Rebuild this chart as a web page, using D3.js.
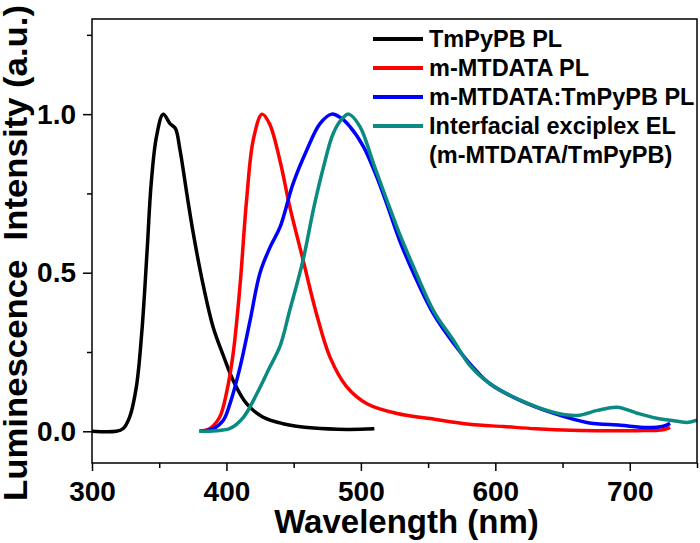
<!DOCTYPE html>
<html>
<head>
<meta charset="utf-8">
<script src="https://cdn.jsdelivr.net/npm/d3@7"></script>
<style>
  body { margin: 0; background: #fff; }
  svg { display: block; }
  text { font-family: Arial, "Liberation Sans", sans-serif; font-weight: bold; fill: #000; }
</style>
</head>
<body>
<div id="chart"></div>
<script>
// axis ticks
const xTicks = [300, 400, 500, 600, 700];
const xMinorTicks = [350, 450, 550, 650, 750];
const yTicks = [0, 0.5, 1.0];
const yMinorTicks = [0.25, 0.75, 1.25];

// legend labels
const seriesNames = ["TmPyPB PL", "m-MTDATA PL", "m-MTDATA:TmPyPB PL", "Interfacial exciplex EL"];
const legendExtra = "(m-MTDATA/TmPyPB)";

// TmPyPB PL
const tmpypbWl = [300, 318, 323, 328, 333, 337, 341, 344, 348, 353, 358, 362, 365.5, 370.5, 375.5, 383, 390, 398, 405, 415, 427, 442, 465, 490, 510];
const tmpypbI  = [0, 0, 0.008, 0.045, 0.14, 0.31, 0.57, 0.78, 0.93, 1.0, 0.97, 0.955, 0.886, 0.75, 0.62, 0.455, 0.33, 0.235, 0.16, 0.087, 0.045, 0.024, 0.01, 0.006, 0.008];

// m-MTDATA PL
const mtdataWl = [380, 388, 395, 400, 405, 410, 415, 420, 426.5, 432, 440, 447, 457, 467, 477, 489.5, 504.5, 527, 551.5, 581, 606, 630, 656, 680, 705, 725, 730];
const mtdataI  = [0, 0.01, 0.045, 0.12, 0.245, 0.455, 0.73, 0.92, 1.0, 0.97, 0.85, 0.71, 0.54, 0.37, 0.234, 0.14, 0.087, 0.056, 0.04, 0.022, 0.015, 0.008, 0.003, 0.002, 0.002, 0.005, 0.012];

// m-MTDATA:TmPyPB PL
const blendWl = [380, 390, 397.7, 402.7, 410, 417.6, 425, 432.4, 440, 449.5, 459.7, 469.6, 478.3, 484.5, 492, 502, 512, 519, 529, 539, 554, 569, 586, 596, 618, 643, 668, 693, 713, 725, 730];
const blendI  = [0, 0.008, 0.035, 0.088, 0.2, 0.35, 0.5, 0.58, 0.645, 0.78, 0.886, 0.97, 1.0, 0.99, 0.96, 0.897, 0.8, 0.72, 0.6, 0.5, 0.37, 0.277, 0.19, 0.15, 0.098, 0.057, 0.028, 0.019, 0.012, 0.016, 0.025];

// Interfacial exciplex EL
const exciplexWl = [380, 392, 402.7, 412.6, 422.8, 432, 440, 447, 457, 464.7, 472, 479.5, 487, 491, 499.4, 509.3, 519.2, 529, 539, 554, 568.8, 581, 596, 618.5, 643, 661, 676, 690.6, 705.5, 720, 730, 742.7, 750];
const exciplexI  = [0, 0.002, 0.009, 0.044, 0.12, 0.2, 0.27, 0.38, 0.54, 0.7, 0.83, 0.94, 0.99, 1.0, 0.96, 0.845, 0.73, 0.62, 0.52, 0.38, 0.287, 0.208, 0.15, 0.098, 0.06, 0.05, 0.066, 0.076, 0.057, 0.041, 0.035, 0.028, 0.035];

const colors = ["#000000", "#ff0000", "#0000ff", "#0a8a80"];

const width = 700;
const height = 543;
const margin = { top: 19, right: 3, bottom: 80, left: 92 };
const innerWidth = width - margin.left - margin.right;
const innerHeight = height - margin.top - margin.bottom;

const svg = d3.select("#chart").append("svg")
  .attr("width", width)
  .attr("height", height);

const g = svg.append("g").attr("transform", `translate(${margin.left},${margin.top})`);

const xScale = d3.scaleLinear().domain([300, 750]).range([0, innerWidth]);
const yScale = d3.scaleLinear().domain([-0.1, 1.3]).range([innerHeight, 0]);

const series = [
  d3.zip(tmpypbWl, tmpypbI),
  d3.zip(mtdataWl, mtdataI),
  d3.zip(blendWl, blendI),
  d3.zip(exciplexWl, exciplexI)
];

const line = d3.line()
  .x(d => xScale(d[0]))
  .y(d => yScale(d[1]))
  .curve(d3.curveCatmullRom.alpha(0.5));

series.forEach((s, i) => {
  g.append("path")
    .datum(s)
    .attr("fill", "none")
    .attr("stroke", colors[i])
    .attr("stroke-width", 3.5)
    .attr("stroke-linejoin", "round")
    .attr("d", line);
});

// frame
g.append("rect")
  .attr("width", innerWidth)
  .attr("height", innerHeight)
  .attr("fill", "none")
  .attr("stroke", "#000")
  .attr("stroke-width", 1.5);

// x axis
const xAxis = g.append("g")
  .attr("transform", `translate(0,${innerHeight})`)
  .call(d3.axisBottom(xScale).tickValues(xTicks).tickSize(8).tickPadding(10).tickSizeOuter(0));
const xMinor = g.append("g")
  .attr("transform", `translate(0,${innerHeight})`)
  .call(d3.axisBottom(xScale).tickValues(xMinorTicks).tickSize(5).tickFormat("").tickSizeOuter(0));

// y axis
const yAxis = g.append("g")
  .call(d3.axisLeft(yScale).tickValues(yTicks).tickFormat(d3.format(".1f")).tickSize(9).tickPadding(7).tickSizeOuter(0));
const yMinor = g.append("g")
  .call(d3.axisLeft(yScale).tickValues(yMinorTicks).tickSize(5).tickFormat("").tickSizeOuter(0));

// minor ticks carry no labels
xMinor.selectAll(".tick text").remove();
yMinor.selectAll(".tick text").remove();

[xAxis, xMinor, yAxis, yMinor].forEach(a => {
  a.select(".domain").remove();
  a.selectAll(".tick line").attr("stroke", "#000").attr("stroke-width", 1.5);
  a.selectAll(".tick text")
    .attr("font-size", 28)
    .attr("font-family", "Arial, 'Liberation Sans', sans-serif")
    .attr("font-weight", "bold")
    .attr("fill", "#000");
});

// axis titles
svg.append("text")
  .attr("x", margin.left + innerWidth / 2 + 12)
  .attr("y", 533)
  .attr("text-anchor", "middle")
  .attr("font-size", 33)
  .text("Wavelength (nm)");

svg.append("text")
  .attr("transform", "translate(27,253) rotate(-90)")
  .attr("text-anchor", "middle")
  .attr("font-size", 33)
  .attr("textLength", 496)
  .attr("lengthAdjust", "spacingAndGlyphs")
  .style("white-space", "pre")
  .text("Luminescence  Intensity (a.u.)");

// legend
const legend = svg.append("g").attr("transform", "translate(373,39)");
seriesNames.forEach((name, i) => {
  const row = legend.append("g").attr("transform", `translate(0,${i * 29})`);
  row.append("line")
    .attr("x1", 0).attr("x2", 50)
    .attr("stroke", colors[i])
    .attr("stroke-width", 4);
  row.append("text")
    .attr("x", 56)
    .attr("y", 8)
    .attr("font-size", 23.5)
    .text(name);
});
legend.append("text")
  .attr("x", 56)
  .attr("y", 4 * 29 + 8)
  .attr("font-size", 23.5)
  .text(legendExtra);
</script>
</body>
</html>
